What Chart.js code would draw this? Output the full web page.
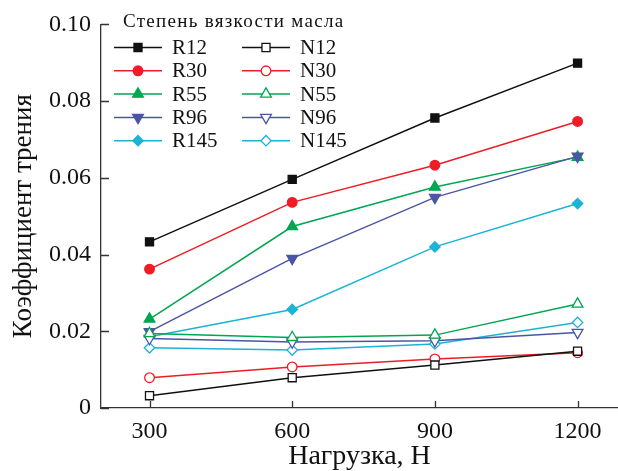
<!DOCTYPE html>
<html>
<head>
<meta charset="utf-8">
<script src="https://cdn.jsdelivr.net/npm/chart.js@4.4.1/dist/chart.umd.min.js"></script>
<style>
  html, body { margin: 0; padding: 0; background: #fff; }
  #wrap { width: 618px; height: 471px; }
</style>
</head>
<body>
<div id="wrap"><canvas id="c" width="618" height="471"></canvas></div>
<script>
// Load, N
const loads = [300, 600, 900, 1200];
const xTicks = [300, 600, 900, 1200];
const yTicks = [0, 0.02, 0.04, 0.06, 0.08, 0.10];

// Friction coefficient per oil viscosity grade
const R12 = [0.0433, 0.0596, 0.0756, 0.0899];
const N12 = [0.0032, 0.0079, 0.0112, 0.0148];
const R30 = [0.0362, 0.0536, 0.0633, 0.0747];
const N30 = [0.0079, 0.0107, 0.0128, 0.0144];
const R55 = [0.0232, 0.0473, 0.0576, 0.0654];
const N55 = [0.0194, 0.0184, 0.0190, 0.0271];
const R96 = [0.0199, 0.0390, 0.0549, 0.0656];
const N96 = [0.0181, 0.0172, 0.0175, 0.0197];
const R145 = [0.0186, 0.0257, 0.0420, 0.0533];
const N145 = [0.0157, 0.0151, 0.0167, 0.0223];

const legendTitle = 'Степень вязкости масла';

const C = {
  black: '#111111',
  red: '#ee1c25',
  green: '#00a651',
  blue: '#4b55a6',
  cyan: '#1bb3d6'
};

const radii = { rect: 5.7, circle: 4.8, triangle: 6.2, rectRot: 5.2 };

function series(label, values, color, style, filled, rotation) {
  return {
    label: label,
    data: values.map((v, i) => ({ x: loads[i], y: v })),
    borderColor: color,
    backgroundColor: filled ? color : '#ffffff',
    pointBorderColor: color,
    pointBackgroundColor: filled ? color : '#ffffff',
    pointStyle: style,
    pointRotation: rotation || 0,
    pointRadius: radii[style],
    pointBorderWidth: 1.3,
    borderWidth: 1.5,
    tension: 0
  };
}

// Drawn in order so filled series sit above hollow ones
const datasets = [
  series('N12', N12, C.black, 'rect', false),
  series('N30', N30, C.red, 'circle', false),
  series('N55', N55, C.green, 'triangle', false),
  series('N96', N96, C.blue, 'triangle', false, 180),
  series('N145', N145, C.cyan, 'rectRot', false),
  series('R145', R145, C.cyan, 'rectRot', true),
  series('R96', R96, C.blue, 'triangle', true, 180),
  series('R55', R55, C.green, 'triangle', true),
  series('R30', R30, C.red, 'circle', true),
  series('R12', R12, C.black, 'rect', true)
];

const legendCols = [
  ['R12', 'R30', 'R55', 'R96', 'R145'],
  ['N12', 'N30', 'N55', 'N96', 'N145']
];

const serif = "'Liberation Serif', serif";

// Let the plot area and the x axis run to the right edge of the canvas
const fullWidthArea = {
  id: 'fullWidthArea',
  afterLayout(chart) {
    const right = chart.width;
    const xs = chart.scales.x;
    chart.chartArea.right = right;
    chart.chartArea.width = right - chart.chartArea.left;
    xs.right = right;
    xs.width = right - xs.left;
    xs.configure();
  }
};

// Inward tick marks on both axes
const inwardTicks = {
  id: 'inwardTicks',
  afterDatasetsDraw(chart) {
    const ctx = chart.ctx;
    const xs = chart.scales.x, ys = chart.scales.y;
    const a = chart.chartArea;
    ctx.save();
    ctx.strokeStyle = '#333';
    ctx.lineWidth = 1.3;
    ctx.beginPath();
    xTicks.forEach(v => {
      const px = Math.round(xs.getPixelForValue(v)) + 0.5;
      ctx.moveTo(px, a.bottom);
      ctx.lineTo(px, a.bottom - 7);
    });
    yTicks.forEach(v => {
      const py = Math.round(ys.getPixelForValue(v)) + 0.5;
      ctx.moveTo(a.left, py);
      ctx.lineTo(a.left + 8, py);
    });
    ctx.stroke();
    ctx.restore();
  }
};

// Two-column legend with a heading, using each dataset's own style
const twoColLegend = {
  id: 'twoColLegend',
  afterDraw(chart) {
    const ctx = chart.ctx;
    const byLabel = {};
    chart.data.datasets.forEach(d => byLabel[d.label] = d);
    ctx.save();
    ctx.fillStyle = '#111';
    ctx.font = '19px ' + serif;
    ctx.textBaseline = 'middle';
    if ('letterSpacing' in ctx) ctx.letterSpacing = '1.3px';
    ctx.fillText(legendTitle, 123, 22);
    if ('letterSpacing' in ctx) ctx.letterSpacing = '0px';
    const colX = [114, 242];
    const rowY0 = 47.5, rowStep = 23.3;
    legendCols.forEach((col, ci) => {
      col.forEach((lab, ri) => {
        const d = byLabel[lab];
        const y = rowY0 + ri * rowStep;
        const x0 = colX[ci];
        ctx.strokeStyle = d.borderColor;
        ctx.lineWidth = 1.5;
        ctx.beginPath();
        ctx.moveTo(x0, y);
        ctx.lineTo(x0 + 48, y);
        ctx.stroke();
        ctx.lineWidth = d.pointBorderWidth;
        ctx.fillStyle = d.pointBackgroundColor;
        Chart.helpers.drawPoint(ctx, {
          pointStyle: d.pointStyle,
          rotation: d.pointRotation,
          radius: d.pointRadius,
          borderWidth: d.pointBorderWidth
        }, x0 + 24, y);
        ctx.fillStyle = '#111';
        ctx.font = '21px ' + serif;
        ctx.fillText(lab, x0 + 58, y + 1);
      });
    });
    ctx.restore();
  }
};

new Chart(document.getElementById('c'), {
  type: 'line',
  data: { datasets: datasets },
  options: {
    responsive: false,
    animation: false,
    devicePixelRatio: 1,
    layout: { padding: { top: 23, right: 0, left: 0, bottom: 0 } },
    plugins: {
      legend: { display: false },
      tooltip: { enabled: false }
    },
    scales: {
      x: {
        type: 'linear',
        min: 198,
        max: 1285,
        afterBuildTicks: s => { s.ticks = xTicks.map(v => ({ value: v })); },
        afterFit: s => { s.height = 63; },
        grid: { display: false, drawTicks: false },
        border: { display: true, color: '#333', width: 1.3 },
        ticks: {
          color: '#111',
          font: { family: serif, size: 24 },
          padding: 9,
          callback: v => String(v)
        },
        title: {
          display: true,
          text: 'Нагрузка, Н',
          color: '#111',
          font: { family: serif, size: 28, lineHeight: 1.0 },
          padding: { top: 0, bottom: 0 }
        }
      },
      y: {
        min: 0,
        max: 0.10,
        afterBuildTicks: s => { s.ticks = yTicks.map(v => ({ value: v })); },
        afterFit: s => { s.width = 101; },
        grid: { display: false, drawTicks: false },
        border: { display: true, color: '#333', width: 1.3 },
        ticks: {
          color: '#111',
          font: { family: serif, size: 24 },
          padding: 10,
          callback: v => v === 0 ? '0' : v.toFixed(2)
        },
        title: {
          display: true,
          text: 'Коэффициент трения',
          color: '#111',
          font: { family: serif, size: 27, lineHeight: 1.0 },
          padding: { top: 10, bottom: 0 }
        }
      }
    }
  },
  plugins: [fullWidthArea, inwardTicks, twoColLegend]
});
</script>
</body>
</html>
